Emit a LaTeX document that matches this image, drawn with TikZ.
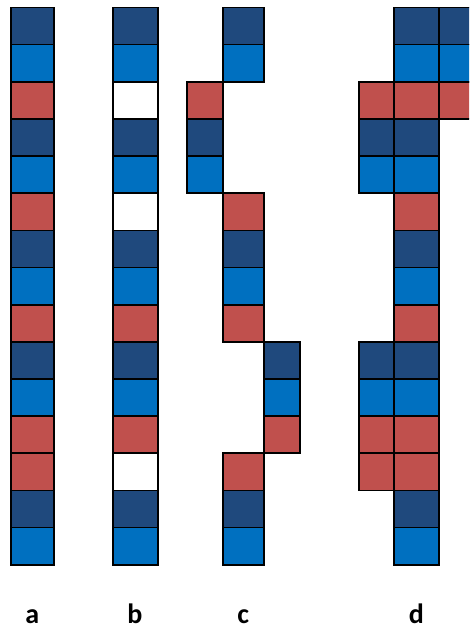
\documentclass[tikz,border=0pt]{standalone}
\usepackage{fontspec}
\setmainfont{Carlito}
\definecolor{dk}{RGB}{31,73,125}
\definecolor{bl}{RGB}{0,112,192}
\definecolor{rd}{RGB}{192,80,77}
\newcommand{\cellbox}[4]{%
  \draw[cell,fill=#4] (#1,{7.5+37.15*#3}) rectangle (#2,{7.5+37.15*(#3+1)});
}

\begin{document}
\begin{tikzpicture}[x=1pt, y=-1pt, line join=miter]
\tikzset{cell/.style={line width=1.7pt, draw=black}, lab/.style={anchor=base, inner sep=0pt, font=\fontsize{28}{30}\selectfont\bfseries}}
\useasboundingbox (0,0) rectangle (469,628);

% column a
\foreach \c [count=\r from 0] in {dk,bl,rd,dk,bl,rd,dk,bl,rd,dk,bl,rd,rd,dk,bl}{
  \cellbox{10.7}{54}{\r}{\c}
}

% column b (gaps left white)
\foreach \c [count=\r from 0] in {dk,bl,white,dk,bl,white,dk,bl,rd,dk,bl,rd,white,dk,bl}{
  \cellbox{112.7}{157.7}{\r}{\c}
}

% column c (shifted pieces)
\cellbox{222.7}{264}{0}{dk}
\cellbox{222.7}{264}{1}{bl}
\cellbox{186.7}{222.7}{2}{rd}
\cellbox{186.7}{222.7}{3}{dk}
\cellbox{186.7}{222.7}{4}{bl}
\foreach \c [count=\r from 5] in {rd,dk,bl,rd}{
  \cellbox{222.7}{264}{\r}{\c}
}
\cellbox{264}{299.7}{9}{dk}
\cellbox{264}{299.7}{10}{bl}
\cellbox{264}{299.7}{11}{rd}
\foreach \c [count=\r from 12] in {rd,dk,bl}{
  \cellbox{222.7}{264}{\r}{\c}
}

% column d (main + side copies)
\foreach \c [count=\r from 0] in {dk,bl,rd,dk,bl,rd,dk,bl,rd,dk,bl,rd,rd,dk,bl}{
  \cellbox{394}{439}{\r}{\c}
}
\foreach \r/\c in {2/rd,3/dk,4/bl,9/dk,10/bl,11/rd,12/rd}{
  \cellbox{358.7}{394}{\r}{\c}
}
\begin{scope}
  \clip (0,0) rectangle (469,628);
  \foreach \r/\c in {0/dk,1/bl,2/rd}{
    \cellbox{439}{484}{\r}{\c}
  }
\end{scope}

% labels
\node[lab] (la) at (32.3,623) {a};
\node[lab] (lb) at (135,623) {b};
\node[lab] (lc) at (243.3,623) {c};
\node[lab] (ld) at (416.5,623) {d};
\end{tikzpicture}
\end{document}
